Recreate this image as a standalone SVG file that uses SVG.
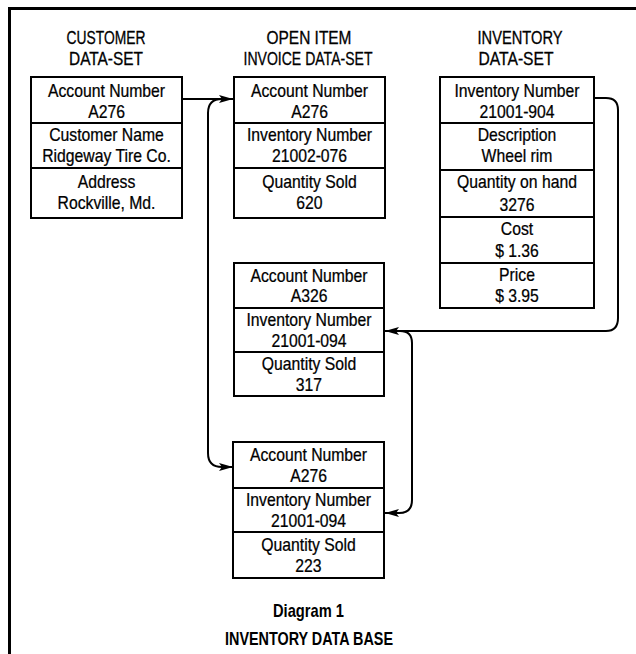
<svg xmlns="http://www.w3.org/2000/svg" width="636" height="654" viewBox="0 0 636 654">
<style>
.frame{fill:none;stroke:#000;stroke-width:3}
.box{fill:#fff;stroke:#000;stroke-width:2}
.sep{stroke:#000;stroke-width:2}
.t{font-family:"Liberation Sans",Arial,sans-serif;font-size:17.5px;fill:#000;stroke:#000;stroke-width:0.25;text-anchor:middle}
.h{font-family:"Liberation Sans",Arial,sans-serif;font-size:18.5px;fill:#000;stroke:#000;stroke-width:0.3;text-anchor:middle}
.cap{font-family:"Liberation Sans",Arial,sans-serif;font-size:19px;font-weight:bold;fill:#000;text-anchor:middle}
.link{fill:none;stroke:#000;stroke-width:2}
</style>
<defs>
<marker id="arr" viewBox="0 0 14 8" refX="14" refY="4" markerWidth="14" markerHeight="8" markerUnits="userSpaceOnUse" orient="auto">
<path d="M0,0 L14,4 L0,8 L3,4 Z" fill="#000"/>
</marker>
</defs>
<rect width="636" height="654" fill="#fff"/>
<path class="frame" d="M9.5,654 L9.5,8.5 L636,8.5"/>

<g id="headers">
<text class="h" x="106" y="44" textLength="79" lengthAdjust="spacingAndGlyphs">CUSTOMER</text>
<text class="h" x="106" y="65" textLength="74" lengthAdjust="spacingAndGlyphs">DATA-SET</text>
<text class="h" x="309" y="44" textLength="85" lengthAdjust="spacingAndGlyphs">OPEN ITEM</text>
<text class="h" x="308" y="65" textLength="129" lengthAdjust="spacingAndGlyphs">INVOICE DATA-SET</text>
<text class="h" x="520" y="44" textLength="85" lengthAdjust="spacingAndGlyphs">INVENTORY</text>
<text class="h" x="516" y="65" textLength="75" lengthAdjust="spacingAndGlyphs">DATA-SET</text>
</g>

<g id="customer">
<rect class="box" x="31" y="77" width="151" height="141"/>
<line class="sep" x1="31" y1="123" x2="182" y2="123"/>
<line class="sep" x1="31" y1="168" x2="182" y2="168"/>
<g transform="translate(106.5 0) scale(0.9 1)">
<text class="t" x="0" y="97">Account Number</text>
<text class="t" x="0" y="118">A276</text>
<text class="t" x="0" y="141">Customer Name</text>
<text class="t" x="0" y="162">Ridgeway Tire Co.</text>
<text class="t" x="0" y="188">Address</text>
<text class="t" x="0" y="209">Rockville, Md.</text>
</g>
</g>

<g id="invoice1">
<rect class="box" x="234" y="77" width="151" height="141"/>
<line class="sep" x1="234" y1="123" x2="385" y2="123"/>
<line class="sep" x1="234" y1="168" x2="385" y2="168"/>
<g transform="translate(309.5 0) scale(0.9 1)">
<text class="t" x="0" y="97">Account Number</text>
<text class="t" x="0" y="118">A276</text>
<text class="t" x="0" y="141">Inventory Number</text>
<text class="t" x="0" y="162">21002-076</text>
<text class="t" x="0" y="188">Quantity Sold</text>
<text class="t" x="0" y="209">620</text>
</g>
</g>

<g id="inventory">
<rect class="box" x="440" y="77" width="154" height="231"/>
<line class="sep" x1="440" y1="123" x2="594" y2="123"/>
<line class="sep" x1="440" y1="170" x2="594" y2="170"/>
<line class="sep" x1="440" y1="217" x2="594" y2="217"/>
<line class="sep" x1="440" y1="263" x2="594" y2="263"/>
<g transform="translate(517 0) scale(0.9 1)">
<text class="t" x="0" y="97">Inventory Number</text>
<text class="t" x="0" y="118">21001-904</text>
<text class="t" x="0" y="141">Description</text>
<text class="t" x="0" y="162">Wheel rim</text>
<text class="t" x="0" y="188">Quantity on hand</text>
<text class="t" x="0" y="211">3276</text>
<text class="t" x="0" y="235">Cost</text>
<text class="t" x="0" y="257">$ 1.36</text>
<text class="t" x="0" y="281">Price</text>
<text class="t" x="0" y="302">$ 3.95</text>
</g>
</g>

<g id="invoice2">
<rect class="box" x="234" y="263" width="150" height="133"/>
<line class="sep" x1="234" y1="308" x2="384" y2="308"/>
<line class="sep" x1="234" y1="352" x2="384" y2="352"/>
<g transform="translate(309 0) scale(0.9 1)">
<text class="t" x="0" y="282">Account Number</text>
<text class="t" x="0" y="302">A326</text>
<text class="t" x="0" y="326">Inventory Number</text>
<text class="t" x="0" y="347">21001-094</text>
<text class="t" x="0" y="370">Quantity Sold</text>
<text class="t" x="0" y="391">317</text>
</g>
</g>

<g id="invoice3">
<rect class="box" x="233" y="442" width="151" height="136"/>
<line class="sep" x1="233" y1="488" x2="384" y2="488"/>
<line class="sep" x1="233" y1="532" x2="384" y2="532"/>
<g transform="translate(308.5 0) scale(0.9 1)">
<text class="t" x="0" y="461">Account Number</text>
<text class="t" x="0" y="482">A276</text>
<text class="t" x="0" y="506">Inventory Number</text>
<text class="t" x="0" y="527">21001-094</text>
<text class="t" x="0" y="551">Quantity Sold</text>
<text class="t" x="0" y="572">223</text>
</g>
</g>

<g id="connectors">
<path class="link" d="M182,99 L233,99" marker-end="url(#arr)"/>
<path class="link" d="M222,99 Q208,99 208,113 L208,453 Q208,467 222,467 L233,467" marker-end="url(#arr)"/>
<path class="link" d="M594,98 L606,98 Q618,98 618,110 L618,318 Q618,331 606,331 L385,331" marker-end="url(#arr)"/>
<path class="link" d="M400,331 Q412,331 412,343 L412,500 Q412,513 399,513 L385,513" marker-end="url(#arr)"/>
</g>

<g id="caption">
<text class="cap" x="308.5" y="617" textLength="71" lengthAdjust="spacingAndGlyphs">Diagram 1</text>
<text class="cap" x="309" y="645" textLength="168" lengthAdjust="spacingAndGlyphs">INVENTORY DATA BASE</text>
</g>
</svg>
